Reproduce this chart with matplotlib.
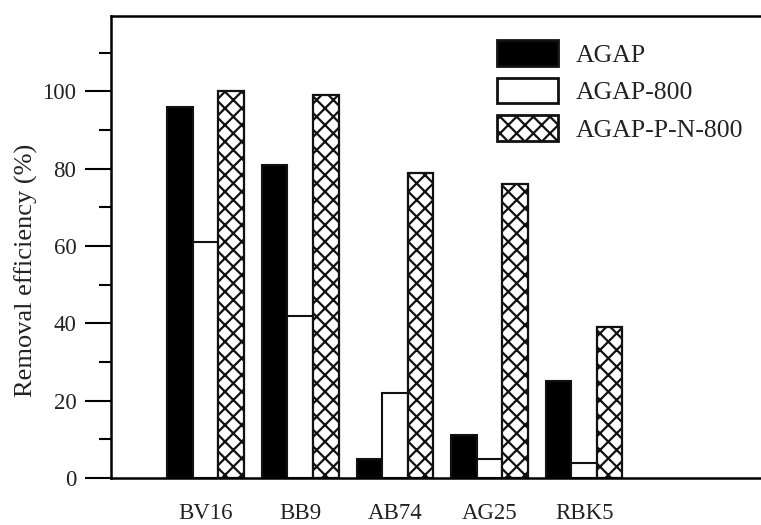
import matplotlib
matplotlib.use("Agg")
import matplotlib.pyplot as plt
import numpy as np
from matplotlib.ticker import MultipleLocator

dyes = ["BV16", "BB9", "AB74", "AG25", "RBK5"]
agap = [96, 81, 5, 11, 25]
agap800 = [61, 42, 22, 5, 4]
agap_pn800 = [100, 99, 79, 76, 39]
series_names = ["AGAP", "AGAP-800", "AGAP-P-N-800"]

plt.rcParams['font.family'] = ['Liberation Serif', 'DejaVu Serif']
plt.rcParams['hatch.linewidth'] = 1.6
plt.rcParams['hatch.color'] = 'black'

fig = plt.figure(figsize=(7.61, 5.25), dpi=100)
ax = fig.add_axes([111/761, 1 - 478/525, 1 - 111/761, (478 - 16)/525])

x = np.arange(len(dyes))
w = 0.27
ec = '#111111'
ax.bar(x - w, agap, w, color='black', edgecolor=ec, linewidth=1.5, label=series_names[0])
ax.bar(x, agap800, w, color='white', edgecolor=ec, linewidth=1.5, label=series_names[1])
ax.bar(x + w, agap_pn800, w, color='white', edgecolor=ec, linewidth=1.6, hatch='xx', label=series_names[2])

ax.set_xlim(-1.0, 5.87)
ax.set_ylim(0, 119.5)
ax.set_xticks(x)
ax.set_xticklabels(dyes, fontsize=16.5, color='#222222')
ax.tick_params(axis='x', length=0, pad=18)
ax.yaxis.set_minor_locator(MultipleLocator(10))
ax.set_yticks([0, 20, 40, 60, 80, 100])
ax.tick_params(axis='y', which='major', length=19, width=1.5, pad=6, labelsize=16.5, labelcolor='#222222')
ax.tick_params(axis='y', which='minor', length=9, width=1.5)
for s in ['left', 'bottom', 'top']:
    ax.spines[s].set_linewidth(1.8)
ax.spines['right'].set_visible(False)

ax.set_ylabel("Removal efficiency (%)", fontsize=19, color='#222222')
ax.yaxis.set_label_coords(38/761, 1 - 270/525, transform=fig.transFigure)

leg = fig.legend(loc='upper left', bbox_to_anchor=(496.7/761, 1 - 40/525),
                 frameon=False, fontsize=18.5, handlelength=2.37, handleheight=1.17,
                 labelspacing=0.43, handletextpad=0.7, borderpad=0, borderaxespad=0)
for t in leg.get_texts():
    t.set_color('#222222')
for p in leg.get_patches():
    p.set_linewidth(2.0)

fig.savefig("out.png", dpi=100)
